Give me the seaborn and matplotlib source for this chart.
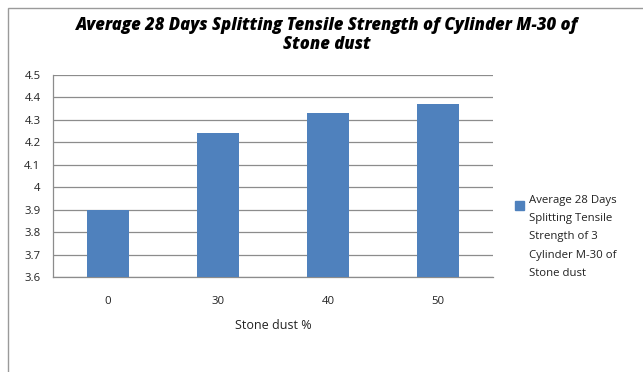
import matplotlib
matplotlib.use("Agg")
import matplotlib.pyplot as plt
import seaborn as sns
import pandas as pd
from matplotlib.patches import Rectangle

categories = ["0", "30", "40", "50"]
strength = [3.90, 4.24, 4.33, 4.37]
y_ticks = [3.6, 3.7, 3.8, 3.9, 4.0, 4.1, 4.2, 4.3, 4.4, 4.5]
y_tick_labels = ["3.6", "3.7", "3.8", "3.9", "4", "4.1", "4.2", "4.3", "4.4", "4.5"]
series_name = "Average 28 Days\nSplitting Tensile\nStrength of 3\nCylinder M-30 of\nStone dust"
title = "Average 28 Days Splitting Tensile Strength of Cylinder M-30 of\nStone dust"

df = pd.DataFrame({"dust": categories, "strength": strength})

sns.set_style("white")
plt.rcParams["font.family"] = ["Open Sans", "DejaVu Sans"]

W, H = 643, 372
fig = plt.figure(figsize=(W / 100, H / 100), dpi=100)
ax = fig.add_axes([53 / W, 1 - 277 / H, 440 / W, 202 / H])

bar_color = "#4F81BD"
sns.barplot(data=df, x="dust", y="strength", color=bar_color, width=0.39,
            saturation=1, ax=ax, zorder=3)
for p in ax.patches:
    p.set_edgecolor("none")

ax.set_ylim(3.6, 4.5)
ax.set_xlim(-0.5, 3.5)
ax.set_yticks(y_ticks)
ax.set_yticklabels(y_tick_labels, fontsize=8.2, color="#222222")
ax.yaxis.grid(True, color="#8c8c8c", linewidth=0.9, zorder=0)
ax.tick_params(axis="y", length=5, color="#8c8c8c", width=0.9, pad=4)
ax.tick_params(axis="x", which="major", length=0, pad=14, labelsize=8.2,
               labelcolor="#222222")
ax.set_xticks([0.5, 1.5, 2.5, 3.5], minor=True)
ax.tick_params(axis="x", which="minor", length=4, color="#8c8c8c", width=0.9)

for s in ["top", "right"]:
    ax.spines[s].set_visible(False)
for s in ["left", "bottom"]:
    ax.spines[s].set_color("#8c8c8c")
    ax.spines[s].set_linewidth(0.9)

ax.set_xlabel("Stone dust %", fontsize=9, labelpad=8, color="#222222")
ax.set_ylabel("")

# legend entry drawn at the right of the plot area
fig.patches.append(Rectangle((515 / W, 1 - 210 / H), 9 / W, 9 / H,
                             transform=fig.transFigure, color=bar_color))
fig.text(529 / W, 1 - 195 / H, series_name, fontsize=8.2, va="top", ha="left",
         linespacing=1.9, color="#222222")

fig.text(327 / W, 1 - 35 / H, title, fontsize=12, fontweight="heavy",
         fontstyle="italic", ha="center", va="center", linespacing=1.15,
         color="black")

# chart frame
fig.patches.append(Rectangle((8 / W, -0.1), 1.2, 1 - 8 / H + 0.1,
                             transform=fig.transFigure, fill=False,
                             edgecolor="#9a9a9a", linewidth=1.0))

fig.savefig("out.png", dpi=100, facecolor="white")
